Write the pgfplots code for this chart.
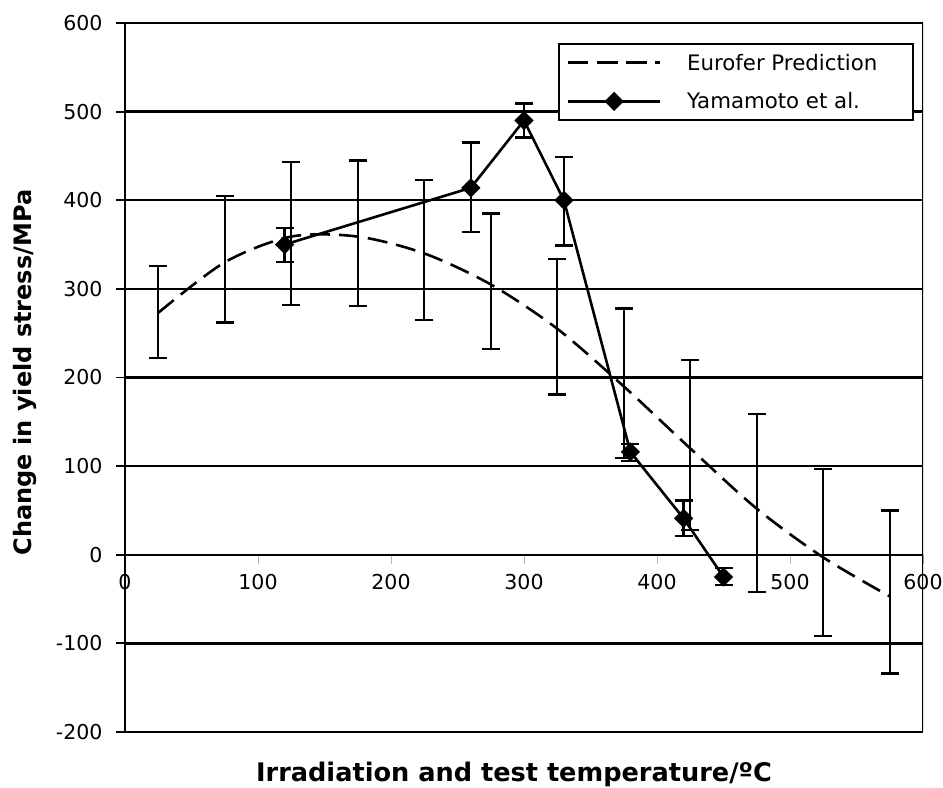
\documentclass[border=0pt]{standalone}
\usepackage{pgfplots}
\pgfplotsset{compat=1.18}
\usepackage{pgfplotstable}
\usepackage{fontspec}
\setmainfont{DejaVu Sans}

\pgfplotstableread{
x y ep em
25 273 53 51
75 330 75 68
125 359 84 77
175 359 86 78
225 340 83 75
275 305 80 73
325 255 79 74
375 190 88 81
425 120 100 92
475 52 107 94
525 -3 100 89
575 -47 97 87
}\eurofer

\pgfplotstableread{
x y ep em
120 350 19 20
260 414 51 50
300 490 19 19
330 400 49 51
380 116 9 10
420 41 20 20
450 -25 10 9
}\yamamoto

\begin{document}
\begin{tikzpicture}
\begin{axis}[
  name=ax,
  scale only axis, width=798pt, height=709pt,
  xmin=0, xmax=600, ymin=-200, ymax=600,
  axis x line=middle, axis y line=left,
  hide obscured x ticks=false,
  x axis line style={-, line width=2.4pt},
  y axis line style={-, line width=1.8pt},
  xtick={0,100,...,600}, xticklabels={0,100,200,300,400,500,600},
  ytick={-200,-100,...,600}, yticklabels={-200,-100,0,100,200,300,400,500,600},
  tick align=outside,
  major tick length=9pt,
  ytick style={black, line width=1.8pt},
  xtick style={gray!60, line width=0.8pt},
  ymajorgrids, grid style={black, line width=2.4pt},
  ticklabel style={font=\fontsize{20.5}{24}\selectfont},
  yticklabel style={xshift=-10pt},
  xticklabel style={yshift=-7pt},
  xlabel={Irradiation and test temperature/ºC},
  ylabel={Change in yield stress/MPa},
  xlabel style={at={([xshift=-10pt,yshift=-42pt]rel axis cs:0.5,0)}, anchor=center, font=\fontsize{25.6}{30}\selectfont\bfseries},
  ylabel style={at={([xshift=-100pt,yshift=5pt]rel axis cs:0,0.5)}, anchor=center, font=\fontsize{24}{28}\selectfont\bfseries},
  legend style={at={(rel axis cs:1,1)}, anchor=north east, xshift=-9pt, yshift=-20pt,
    draw=black, line width=1.8pt, fill=white, font=\fontsize{21.3}{25}\selectfont,
    inner xsep=8pt, inner ysep=8pt, row sep=17pt},
  legend cell align=left,
  legend image code/.code={\draw[mark repeat=2,mark phase=2,#1] plot coordinates {(0pt,0pt)(46pt,0pt)(92pt,0pt)}; \path[draw=none,fill=none] (0pt,0pt) -- (117pt,0pt);},
]
\addplot[black, line width=2.6pt, dash pattern=on 20pt off 9pt, smooth, no marks,
  error bars/.cd, y dir=both, y explicit,
  error bar style={solid, line width=2.4pt},
  error mark options={solid, rotate=90, mark size=9pt, line width=2.4pt}]
  table[x=x, y=y, y error plus=ep, y error minus=em] {\eurofer};
\addlegendentry{\makebox[216pt][l]{Eurofer Prediction}}
\addplot[black, line width=2.6pt, solid, mark=square*, mark size=5.5pt, mark options={rotate=45, solid, fill=black},
  error bars/.cd, y dir=both, y explicit,
  error bar style={solid, line width=2.4pt},
  error mark options={solid, rotate=90, mark size=9pt, line width=2.4pt}]
  table[x=x, y=y, y error plus=ep, y error minus=em] {\yamamoto};
\addlegendentry{Yamamoto et al.}
\draw[line width=2.4pt] (rel axis cs:1,0) -- (rel axis cs:1,1);
\end{axis}
\pgfresetboundingbox
\useasboundingbox ([xshift=-125pt,yshift=-55pt]ax.south west) rectangle ([xshift=20pt,yshift=23pt]ax.north east);
\end{tikzpicture}
\end{document}
